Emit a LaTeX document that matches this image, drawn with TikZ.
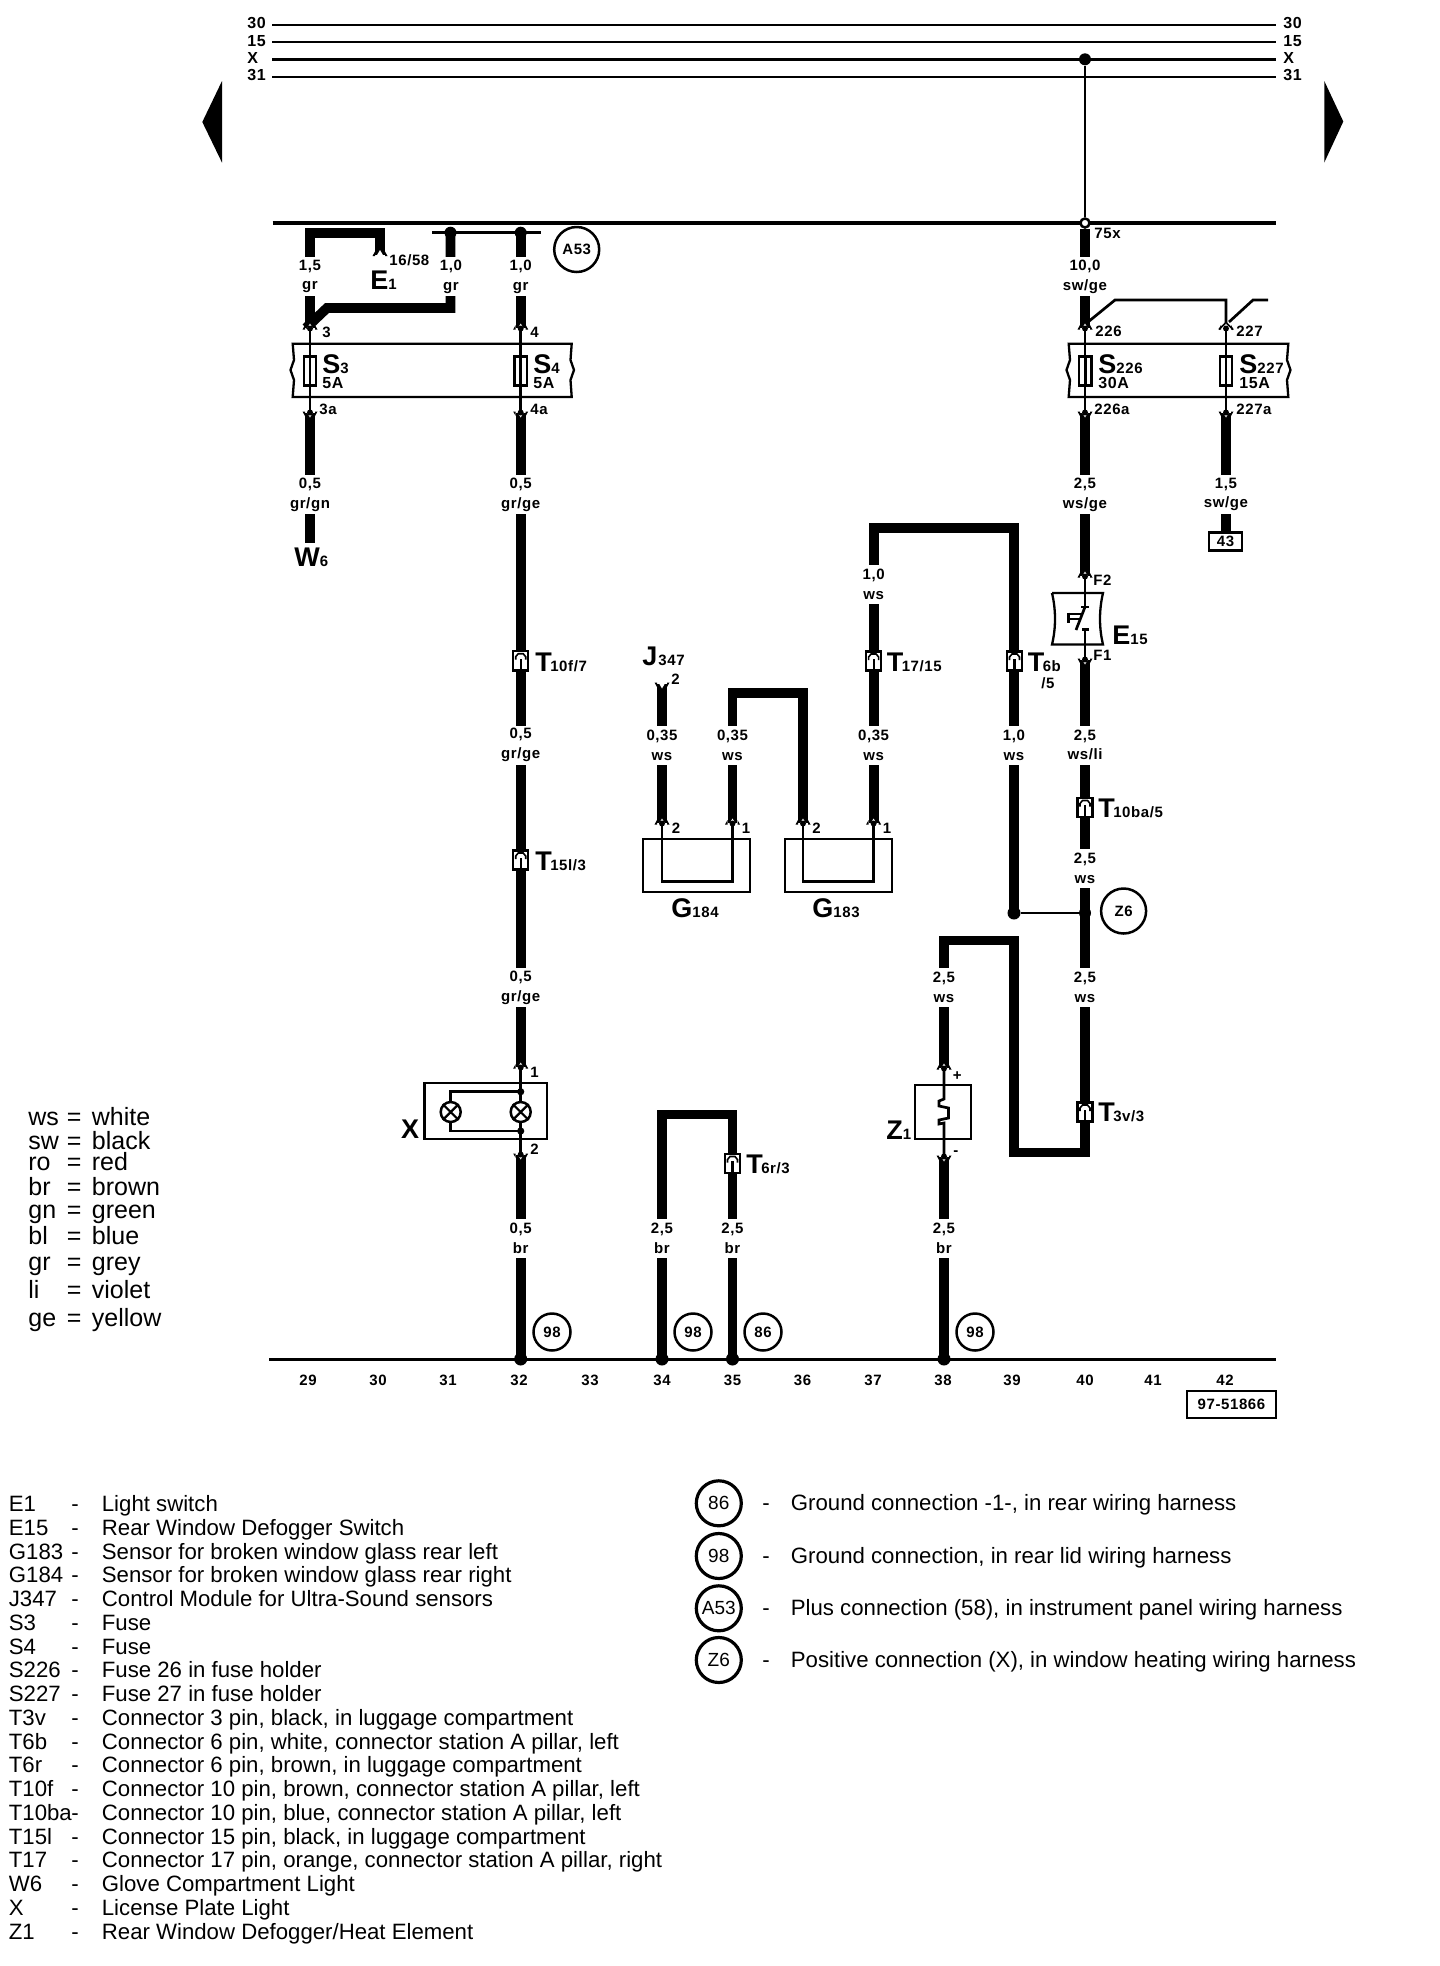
\documentclass[tikz,border=0pt]{standalone}
\usepackage{fontspec}
\setmainfont{Liberation Sans}
\newfontfamily\labf[LetterSpace=4]{Liberation Sans}
\newcommand\fW{\labf\fontsize{7.5}{9.85}\selectfont\bfseries}
\newcommand\fB{\labf\fontsize{8}{8}\selectfont\bfseries}
\newcommand\bigsub[3][0pt]{{\fontsize{13.5}{13.5}\selectfont\bfseries #2}\kern#1{\labf\fontsize{7.5}{7.5}\selectfont\bfseries #3}}
\newcommand\fLeg{\fontsize{11.1}{12}\selectfont}
\newcommand\fKey{\fontsize{12.5}{13}\selectfont}
\tikzset{
  wire/.style={line width=4.9pt,line cap=butt,line join=miter},
  thin wire/.style={line width=1.35pt,line join=miter},
  outline/.style={line width=1.15pt,line join=miter},
  wlab/.style={fill=white,inner sep=0pt,minimum height=19.5pt,minimum width=11pt,align=center,font=\fW},
  pinlab/.style={inner sep=0pt,anchor=west,font=\fW},
  blab/.style={inner sep=0pt,font=\fB},
  axlab/.style={inner sep=0pt,font=\fW},
  biglab/.style={inner sep=0pt,anchor=base west},
  dot/.style={circle,fill=black,inner sep=0pt,minimum size=6.5pt},
  ref/.style={circle,draw,fill=white,line width=1.25pt,inner sep=0pt,minimum size=18.5pt,font=\fW},
  refbig/.style={ref,minimum size=22.5pt},
  fusebox/.style={draw,fill=white,line width=1.15pt,inner sep=0pt,minimum width=6.3pt,minimum height=14.5pt},
  connbox/.style={draw,fill=white,line width=1.25pt,inner sep=0pt,minimum width=7.5pt,minimum height=9.6pt},
  lamp/.style={circle,draw,fill=white,line width=1.25pt,inner sep=0pt,minimum size=10pt},
  keytext/.style={inner sep=0pt,anchor=base west,font=\fKey},
  legtext/.style={inner sep=0pt,anchor=base west,font=\fLeg},
  ringref/.style={circle,draw,line width=1.6pt,inner sep=0pt,minimum size=22.5pt,font=\fontsize{9.5}{10}\selectfont},
}
% notch at the lower end of a wire (wire above) / upper end (wire below)
\newcommand\notchup[2]{\fill[white] (#1,#2) ++(-3.5,1.5) -- ++(3.5,-6) -- ++(3.5,6) -- cycle;
  \fill (#1,#2) ++(-5,-3) -- ++(-2.5,4.5) -- ++(2.5,0) -- cycle;
  \fill (#1,#2) ++(5,-3) -- ++(2.5,4.5) -- ++(-2.5,0) -- cycle;}
\newcommand\notchdown[2]{\fill[white] (#1,#2) ++(-3.5,-1.5) -- ++(3.5,6) -- ++(3.5,-6) -- cycle;
  \fill (#1,#2) ++(-5,3) -- ++(-2.5,-4.5) -- ++(2.5,0) -- cycle;
  \fill (#1,#2) ++(5,3) -- ++(2.5,-4.5) -- ++(-2.5,0) -- cycle;}
\newcommand\pinup[2]{\notchup{#1}{#2}\fill (#1,#2) ++(0,0.5) circle[radius=1.5pt];}
\newcommand\pindown[2]{\notchdown{#1}{#2}\fill (#1,#2) ++(0,-0.5) circle[radius=1.5pt];}
\newcommand\wl[5]{\node[wlab] (#1) at (#2,#3) {#4\\#5};}
\newcommand\conn[3]{\node[connbox] (#1) at (#2,#3) {};
  \draw[line width=1.1pt] (#1.south) -- ++(0,-13);
  \draw[line width=.8pt] (#1.center) ++(-5,-1) -- ++(0,-3) -- ++(2.5,-3) -- ++(5,0) -- ++(2.5,3) -- ++(0,3);}
\begin{document}
\begin{tikzpicture}[x=0.5pt,y=-0.5pt]
\useasboundingbox[fill=white] (0,0) rectangle (1440,1966);

% ---- bus lines
\foreach \n/\y/\w/\ly in {30/25/1/23,15/41.7/1/40.8,X/59.3/1.6/57.5,31/76.9/1/75.2}{
  \node[blab,anchor=west] (bl\n) at (247,\ly) {\n};
  \node[blab,anchor=west] (br\n) at (1283,\ly) {\n};
  \coordinate (ba\n) at (272,\y);
  \coordinate (bb\n) at (1276,\y);
  \draw[line width=\w pt] (ba\n) -- (bb\n);
}
\fill (222,81) -- (202.3,122) -- (222,162.6) -- cycle;
\fill (1324.3,81) -- (1343.3,121.5) -- (1324.3,162.5) -- cycle;
\coordinate (m1) at (272.7,223); \coordinate (m2) at (1275.5,223);
\draw[line width=1.6pt] (m1) -- (m2);
\node[dot,minimum size=6pt] (dX) at (1085,59.3) {};
\node[circle,draw,fill=white,line width=1.25pt,inner sep=0pt,minimum size=4.5pt] (d75) at (1085,223) {};
\draw[thin wire] (dX) -- (d75);

% ---- named points on the wires
\coordinate (e1a) at (380,254.5); \coordinate (e1b) at (380,232.7);
\coordinate (e1c) at (310,232.7); \coordinate (p3) at (310,328);
\coordinate (p3a) at (310,413); \coordinate (w6) at (310,543.4);
\coordinate (jA) at (450.5,232.7); \coordinate (jAb) at (450.5,308);
\coordinate (jAc) at (327,308);
\coordinate (jB) at (520.7,232.7); \coordinate (p4) at (520.7,328);
\coordinate (p4a) at (520.7,413); \coordinate (x1) at (520.7,1067);
\coordinate (x2) at (520.7,1155); \coordinate (g32) at (520.7,1359);
\coordinate (h1) at (432,232.7); \coordinate (h2) at (540.7,232.7);
\coordinate (g34) at (662,1359); \coordinate (g35) at (732.5,1359);
\coordinate (u1) at (662,1114.5); \coordinate (u2) at (732.5,1114.5);
\coordinate (j2) at (662,684); \coordinate (p184b) at (662,823);
\coordinate (p184a) at (732.5,823); \coordinate (u3) at (732.5,693);
\coordinate (u4) at (803,693); \coordinate (p183b) at (803,823);
\coordinate (p183a) at (873.6,823); \coordinate (u5) at (873.6,528.3);
\coordinate (u6) at (1014,528.3); \coordinate (u7) at (1014,913);
\coordinate (p226) at (1085,328); \coordinate (p226a) at (1085,413);
\coordinate (f2) at (1085,576); \coordinate (f1) at (1085,660);
\coordinate (c1) at (1085,607); \coordinate (c2) at (1085,629.3);
\coordinate (v1) at (1085,1152.5); \coordinate (v2) at (1014.3,1152.5);
\coordinate (v3) at (1014.3,940.5); \coordinate (v4) at (944,940.5);
\coordinate (zp) at (944,1068); \coordinate (zm) at (944,1157);
\coordinate (g38) at (944,1359); \coordinate (j40) at (1085,913);
\coordinate (p227) at (1226,328); \coordinate (p227a) at (1226,413);
\coordinate (n1) at (1226,300); \coordinate (n0) at (1115,300);
\coordinate (n2) at (1088,322); \coordinate (n3) at (1229,322);
\coordinate (n4) at (1253,300); \coordinate (n5) at (1268,300);

% ---- thin wires through components
\draw[thin wire] (p3) -- (p3a);
\draw[thin wire] (p4) -- (p4a);
\draw[thin wire] (p226) -- (p226a);
\draw[thin wire] (p227) -- (p227a);
\draw[thin wire] (n2) -- (n0) -- (n1) -- (p227);
\draw[thin wire] (n3) -- (n4) -- (n5);
\draw[thin wire] (h1) -- (h2);

% ---- thick wires
\draw[wire] (e1a) -- (e1b) -- (e1c) -- (p3);
\draw[wire] (jA) -- (jAb) -- (jAc) -- (306,328);
\draw[wire] (jB) -- (p4);
\draw[wire] (p3a) -- (w6);
\draw[wire] (p4a) -- (x1);
\draw[wire] (x2) -- (g32);
\draw[wire] (g34) -- (u1) -- (u2) -- (g35);
\draw[wire] (j2) -- (p184b);
\draw[wire] (p184a) -- (u3) -- (u4) -- (p183b);
\draw[wire] (p183a) -- (u5) -- (u6) -- (u7);
\draw[wire] (d75) -- (p226);
\draw[wire] (p226a) -- (f2);
\draw[wire] (f1) -- (v1) -- (v2) -- (v3) -- (v4) -- (zp);
\draw[wire] (zm) -- (g38);
\draw[wire] (p227a) -- (1226,533);

% ---- junctions
\node[dot,minimum size=6pt] (dA) at (jA) {};
\node[dot,minimum size=6pt] (dB) at (jB) {};
\node[dot] (d32) at (g32) {};
\node[dot] (d34) at (g34) {};
\node[dot] (d35) at (g35) {};
\node[dot] (d38) at (g38) {};
\node[dot] (d39) at (u7) {};
\node[dot,minimum size=6pt] (d40) at (j40) {};
\draw[thin wire] (d39) -- (d40);

% ---- wire size / colour labels
\wl{a1}{310}{276.5}{1,5}{gr}
\wl{a2}{451}{276.5}{1,0}{gr}
\wl{a3}{520.7}{276.5}{1,0}{gr}
\wl{a4}{1085}{276.5}{10,0}{sw/ge}
\wl{a5}{310}{494.5}{0,5}{gr/gn}
\wl{a6}{520.7}{494.5}{0,5}{gr/ge}
\wl{a7}{1085}{494.5}{2,5}{ws/ge}
\wl{a8}{1226}{494.5}{1,5}{sw/ge}
\wl{a9}{873.6}{584.5}{1,0}{ws}
\wl{a10}{520.7}{745}{0,5}{gr/ge}
\wl{a11}{662}{745}{0,35}{ws}
\wl{a12}{732.5}{745}{0,35}{ws}
\wl{a13}{873.6}{745}{0,35}{ws}
\wl{a14}{1014}{745}{1,0}{ws}
\wl{a15}{1085}{745}{2,5}{ws/li}
\wl{a16}{1085}{868}{2,5}{ws}
\wl{a17}{520.7}{987.5}{0,5}{gr/ge}
\wl{a18}{944}{987.5}{2,5}{ws}
\wl{a19}{1085}{987.5}{2,5}{ws}
\wl{a20}{520.7}{1238}{0,5}{br}
\wl{a21}{662}{1238}{2,5}{br}
\wl{a22}{732.5}{1238}{2,5}{br}
\wl{a23}{944}{1238}{2,5}{br}

% ---- fuse holders
\draw[outline] (292.7,343.7) -- (571.7,343.7) -- (570.5,360) -- (574,370) -- (570.5,380) -- (571.7,396.9) -- (292.7,396.9) -- (294,380) -- (290.5,370) -- (294,360) -- cycle;
\draw[outline] (1068.7,343.7) -- (1288.3,343.7) -- (1287,360) -- (1290.5,370) -- (1287,380) -- (1288.3,396.9) -- (1068.7,396.9) -- (1070,380) -- (1066.5,370) -- (1070,360) -- cycle;
\node[fusebox] (s3) at (310,371) {};
\node[fusebox] (s4) at (520.7,371) {};
\node[fusebox] (s226) at (1085.3,371) {};
\node[fusebox] (s227) at (1226,371) {};
\draw[thin wire] (s3.north) -- (s3.south);
\draw[thin wire] (s4.north) -- (s4.south);
\draw[thin wire] (s226.north) -- (s226.south);
\draw[thin wire] (s227.north) -- (s227.south);
\node[biglab] (ls3) at (322,373) {\bigsub{S}{3}};
\node[biglab] (ls4) at (533,373) {\bigsub{S}{4}};
\node[biglab] (ls226) at (1098,373) {\bigsub{S}{226}};
\node[biglab] (ls227) at (1239,373) {\bigsub{S}{227}};
\node[biglab,font=\fB] (a5a) at (322,388.5) {5A};
\node[biglab,font=\fB] (a5b) at (533,388.5) {5A};
\node[biglab,font=\fB] (a30) at (1098,388.5) {30A};
\node[biglab,font=\fB] (a15) at (1239,388.5) {15A};

% ---- pins
\draw[line width=.8pt] (1219,329.5) -- (1226,322.5) -- (1233,329.5);
\pinup{310}{328} \pinup{520.7}{328} \pinup{1085}{328} \pinup{1226}{328}
\pindown{310}{413} \pindown{520.7}{413} \pindown{1085}{413} \pindown{1226}{413}
\notchup{380}{254.5}
\notchdown{662}{684}
\pinup{1085}{576}
\pindown{1085}{660}
\node[pinlab] (t3) at (322,332) {3};
\node[pinlab] (t4) at (530,332) {4};
\node[pinlab] (t3a) at (319,409.5) {3a};
\node[pinlab] (t4a) at (530,409.5) {4a};
\node[pinlab] (t226) at (1095,331.7) {226};
\node[pinlab] (t227) at (1236,331.7) {227};
\node[pinlab] (t226a) at (1094,409.4) {226a};
\node[pinlab] (t227a) at (1236,409.4) {227a};
\node[pinlab] (t75) at (1094,233) {75x};
\node[pinlab] (t1658) at (389,260) {16/58};
\node[pinlab] (tF2) at (1093,580) {F2};
\node[pinlab] (tF1) at (1093,655) {F1};

% ---- letters of components
\node[biglab] (lE1) at (370,289) {\bigsub{E}{1}};
\node[biglab] (lW6) at (294,566) {\bigsub{W}{6}};
\node[biglab] (lE15) at (1112,644) {\bigsub{E}{15}};
\node[biglab] (lJ) at (642,665) {\bigsub[0.5pt]{J}{347}};
\node[pinlab] (tJ2) at (671,679) {2};
\node[ref,refbig] (cA53) at (576.7,249.5) {A53};
\node[ref,refbig] (cZ6) at (1123.6,911) {Z6};
\node[draw,line width=1.25pt,inner sep=0pt,minimum width=16.5pt,minimum height=8.9pt,font=\fW] (b43) at (1225.5,541.5) {43};

% ---- E15 switch
\draw[outline] (1052,593) -- (1103,593) .. controls (1099,610) and (1099,628) .. (1103,644.5) -- (1052,644.5) .. controls (1056,628) and (1056,610) .. (1052,593);
\draw[thin wire] (f2) -- (c1);
\draw[thin wire] (c2) -- (f1);
\draw[thin wire] (1081,607) -- (1089,607);
\draw[thin wire] (c1) -- (1076,630);
\draw[thin wire] (1082,629.3) -- (1089,629.3);
\draw[thin wire] (1068.5,612.5) -- (1068.5,623);
\draw[thin wire] (1068.5,614) -- (1081,614);
\draw[line width=.8pt] (1068.5,619) -- (1079,619);

% ---- connectors
\conn{c1015}{520.7}{660.7}
\conn{c1703}{520.7}{860}
\conn{c1715}{873.6}{661}
\conn{c6b}{1014.5}{661}
\conn{c10ba}{1085}{807.5}
\conn{c3v}{1085}{1112}
\conn{c6r}{732.5}{1163.5}
\node[biglab] (lT10) at (535,671) {\bigsub[-0.8pt]{T}{10f/7}};
\node[biglab] (lT15) at (535,870) {\bigsub[-0.8pt]{T}{15l/3}};
\node[biglab] (lT17) at (886.5,671) {\bigsub[-0.8pt]{T}{17/15}};
\node[biglab] (lT6b) at (1027.5,671) {\bigsub[-0.8pt]{T}{6b}};
\node[biglab,font=\labf\fontsize{7.5}{7.5}\selectfont\bfseries] (lT6b5) at (1041,688) {/5};
\node[biglab] (lT10b) at (1098,817) {\bigsub[-0.8pt]{T}{10ba/5}};
\node[biglab] (lT3v) at (1098,1121.7) {\bigsub[-0.8pt]{T}{3v/3}};
\node[biglab] (lT6r) at (746,1173) {\bigsub[-0.8pt]{T}{6r/3}};

% ---- sensors
\draw[outline] (643,839) rectangle (750,892);
\draw[outline] (785,839) rectangle (892,892);
\draw[thin wire] (p184b) -- (662,881.7) -- (732.5,881.7) -- (p184a);
\draw[thin wire] (p183b) -- (803,881.7) -- (873.6,881.7) -- (p183a);
\pinup{662}{823} \pinup{732.5}{823} \pinup{803}{823} \pinup{873.6}{823}
\node[pinlab] (t2a) at (671.5,828) {2};
\node[pinlab] (t1a) at (741.5,828) {1};
\node[pinlab] (t2b) at (812,828) {2};
\node[pinlab] (t1b) at (882.5,828) {1};
\node[biglab] (lG184) at (671,917) {\bigsub{G}{184}};
\node[biglab] (lG183) at (812,917) {\bigsub{G}{183}};

% ---- licence plate light
\draw[outline] (424.6,1082.7) rectangle (547,1139.3);
\coordinate (xa) at (450.7,1091.7); \coordinate (xb) at (450.7,1131);
\coordinate (xc) at (520.7,1091.7); \coordinate (xd) at (520.7,1131);
\draw[thin wire] (x1) -- (x2);
\draw[thin wire] (xc) -- (xa) -- (xb) -- (xd);
\node[lamp] (l1) at (450.7,1112) {};
\node[lamp] (l2) at (520.7,1112) {};
\draw[line width=1.1pt] (l1.45) -- (l1.225) (l1.135) -- (l1.-45);
\draw[line width=1.1pt] (l2.45) -- (l2.225) (l2.135) -- (l2.-45);
\fill (xc) circle[radius=1.8pt];
\fill (xd) circle[radius=1.8pt];
\pinup{520.7}{1067}
\pindown{520.7}{1155}
\node[pinlab] (tx1) at (530,1072.7) {1};
\node[pinlab] (tx2) at (530,1149) {2};
\node[biglab] (lX) at (400.7,1138) {\bigsub{X}{}};

% ---- heater
\draw[outline] (915,1085) rectangle (971,1139);
\draw[thin wire] (zp) -- (944,1099) -- (939,1101) -- (939,1106) -- (948.5,1108) -- (948.5,1118) -- (939,1120) -- (939,1124) -- (944,1123) -- (zm);
\pinup{944}{1068}
\pindown{944}{1157}
\node[pinlab] (tzp) at (952.5,1075.7) {+};
\node[pinlab] (tzm) at (953,1152.7) {-};
\node[biglab] (lZ1) at (886,1139) {\bigsub{Z}{1}};

% ---- axis
\coordinate (ax1) at (269,1359.3); \coordinate (ax2) at (1276,1359.3);
\draw[line width=1.5pt] (ax1) -- (ax2);
\foreach \n/\x in {29/308,30/378,31/448,32/519,33/590,34/662,35/732.5,36/802.5,37/873,38/943,39/1012,40/1085,41/1153,42/1225}{
  \node[axlab] (ax\n) at (\x,1380) {\n};
}
\node[draw,line width=1.25pt,inner sep=0pt,minimum width=44.5pt,minimum height=13.5pt,font=\fW] (code) at (1231.5,1404.5) {97-51866};
\node[ref] (g98a) at (552,1332) {98};
\node[ref] (g98b) at (693,1332) {98};
\node[ref] (g86) at (763,1332) {86};
\node[ref] (g98c) at (975,1332) {98};

% ---- colour key
\foreach \a/\b/\y [count=\i] in {ws/white/1125,sw/black/1149.3,ro/red/1170.7,br/brown/1195,gn/green/1218.3,bl/blue/1244,gr/grey/1270,li/violet/1298,ge/yellow/1326}{
  \node[keytext] (ka\i) at (28,\y) {\a};
  \node[keytext] (kb\i) at (66.5,\y) {=};
  \node[keytext] (kc\i) at (91.5,\y) {\b};
}

% ---- parts list
\foreach \a/\b [count=\i] in {E1/{Light switch},E15/{Rear Window Defogger Switch},G183/{Sensor for broken window glass rear left},G184/{Sensor for broken window glass rear right},J347/{Control Module for Ultra-Sound sensors},S3/{Fuse},S4/{Fuse},S226/{Fuse 26 in fuse holder},S227/{Fuse 27 in fuse holder},T3v/{Connector 3 pin, black, in luggage compartment},T6b/{Connector 6 pin, white, connector station A pillar, left},T6r/{Connector 6 pin, brown, in luggage compartment},T10f/{Connector 10 pin, brown, connector station A pillar, left},T10ba/{Connector 10 pin, blue, connector station A pillar, left},T15l/{Connector 15 pin, black, in luggage compartment},T17/{Connector 17 pin, orange, connector station A pillar, right},W6/{Glove Compartment Light},X/{License Plate Light},Z1/{Rear Window Defogger/Heat Element}}{
  \pgfmathsetmacro\yy{1511.7+23.75*(\i-1)}
  \node[legtext] (la\i) at (8.5,\yy) {\a};
  \node[legtext] (lb\i) at (71,\yy) {-};
  \node[legtext] (lc\i) at (101.5,\yy) {\b};
}

% ---- reference list
\foreach \a/\b/\y/\c in {86/{Ground connection -1-, in rear wiring harness}/1503.3/1,98/{Ground connection, in rear lid wiring harness}/1556/2,A53/{Plus connection (58), in instrument panel wiring harness}/1608.3/3,Z6/{Positive connection (X), in window heating wiring harness}/1660/4}{
  \node[ringref] (ra\c) at (718.8,\y) {\a};
  \node[legtext] (rb\c) at (762,\y+7.3) {-};
  \node[legtext] (rc\c) at (790.5,\y+7.3) {\b};
}
\end{tikzpicture}
\end{document}
